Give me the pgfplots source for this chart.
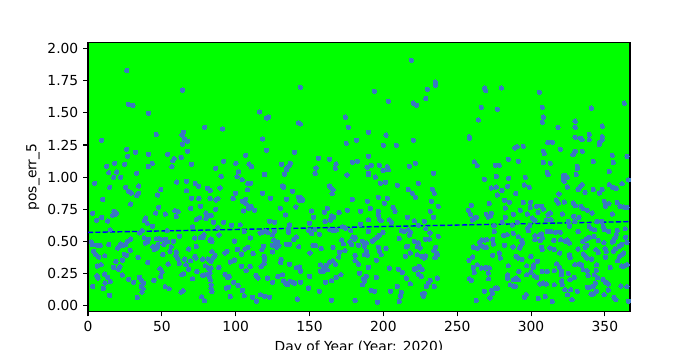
\documentclass[border=0pt]{standalone}
\usepackage{fontspec}
\setmainfont{DejaVu Sans}
\usepackage{pgfplots}
\pgfplotsset{compat=1.18}
\definecolor{pt}{HTML}{3A78C2}
\definecolor{bg}{HTML}{00FF00}
\begin{document}
\begin{tikzpicture}
\useasboundingbox (-0.88in,-0.385in) rectangle (6.12in,3.115in);
\begin{axis}[
 scale only axis, width=5.42in, height=2.69in,
 xmin=0, xmax=367, ymin=-0.045, ymax=2.047,
 axis background/.style={fill=bg},
 xtick={0,50,...,350}, ytick={0,0.25,...,2},
 yticklabel style={/pgf/number format/.cd,fixed,fixed zerofill,precision=2},
 /pgf/number format/assume math mode=true,
 tick align=outside, xtick pos=left, ytick pos=left,
 major tick length=3.5pt,
 tick style={black, line width=0.8pt},
 axis line style={line width=0.8pt},
 ticklabel style={font=\fontsize{10}{12}\selectfont},
 xlabel={Day of Year (Year: 2020)}, ylabel={pos\_err\_5},
 xlabel style={at={(axis description cs:0.5,-0.109)}, anchor=north, inner sep=0pt, font=\fontsize{10}{12}\selectfont},
 ylabel style={at={(axis description cs:-0.1015,0.5)}, anchor=center, inner sep=0pt, font=\fontsize{10}{12}\selectfont},
]
\addplot[only marks, color=pt, mark=*, mark size=1.6pt, mark options={draw=pt, fill=pt, line width=0pt}] table {
x y
26.2 1.83
27.3 1.567
30.4 1.559
41.0 1.497
46.2 1.333
9.2 1.287
26.2 1.217
32.2 1.193
26.8 1.162
41.0 1.178
53.9 1.178
57.5 1.128
58.4 1.144
56.8 1.082
12.6 1.084
18.0 1.108
24.8 1.100
14.0 1.035
19.4 1.040
17.4 0.999
22.1 0.999
32.9 1.030
40.8 1.084
43.5 1.108
4.5 0.952
14.7 0.921
25.5 0.921
34.3 0.931
27.3 0.890
29.3 0.877
34.3 0.874
33.1 0.859
49.2 0.905
47.1 0.861
60.0 0.962
9.9 0.827
28.9 0.791
47.8 0.765
3.1 0.719
17.6 0.734
19.2 0.721
18.5 0.708
5.8 0.664
9.2 0.687
13.3 0.659
16.7 0.703
45.8 0.721
52.3 0.713
58.9 0.739
59.8 0.695
39.0 0.682
38.1 0.661
40.1 0.641
43.7 0.617
15.1 0.591
36.7 0.584
34.9 0.566
53.7 0.584
2.2 0.495
3.1 0.475
6.3 0.470
8.3 0.470
14.0 0.477
20.7 0.459
22.1 0.480
23.7 0.470
25.3 0.475
26.8 0.501
20.1 0.449
28.9 0.519
38.1 0.529
41.0 0.516
40.1 0.495
38.8 0.488
44.0 0.459
44.9 0.438
46.7 0.449
46.2 0.521
48.2 0.521
49.6 0.514
52.5 0.516
53.9 0.498
51.4 0.477
47.3 0.477
56.4 0.459
59.8 0.418
57.9 0.501
3.8 0.423
7.2 0.379
4.9 0.402
11.3 0.389
24.6 0.400
26.2 0.392
28.6 0.431
23.4 0.355
18.9 0.345
34.0 0.376
50.7 0.400
55.5 0.423
59.5 0.387
6.3 0.309
8.8 0.319
17.3 0.298
20.7 0.285
21.6 0.304
40.4 0.337
54.3 0.324
48.7 0.288
50.1 0.262
11.3 0.246
6.1 0.233
6.7 0.215
13.3 0.220
15.1 0.189
11.5 0.176
10.4 0.135
14.6 0.080
3.1 0.150
23.2 0.239
27.5 0.205
30.9 0.182
34.9 0.220
36.1 0.200
37.6 0.176
36.1 0.150
37.4 0.132
36.5 0.106
33.4 0.065
44.6 0.197
52.3 0.148
55.0 0.132
49.2 0.228
64.0 1.676
63.6 1.328
64.7 1.349
65.4 1.297
64.0 1.256
67.4 1.279
67.4 1.201
63.1 1.154
79.0 1.388
91.1 1.375
70.1 1.100
66.7 0.968
72.6 0.952
74.8 0.929
66.7 0.895
80.9 0.913
82.7 0.897
86.4 1.069
91.8 1.123
90.2 1.007
70.1 0.835
75.1 0.835
82.7 0.835
86.6 0.822
87.9 0.833
89.5 0.916
100.1 1.108
99.9 0.874
98.3 0.835
101.9 1.043
101.0 1.004
104.4 0.981
106.7 1.170
109.1 1.102
110.7 1.082
108.2 0.952
110.0 0.952
108.0 0.903
106.7 0.828
104.6 0.812
106.2 0.802
107.1 0.794
108.5 0.773
105.3 0.737
109.0 0.755
110.5 0.773
112.8 0.742
116.1 1.507
118.2 1.297
118.2 0.874
119.5 1.020
60.9 0.731
69.5 0.757
76.2 0.773
79.8 0.721
80.5 0.700
79.8 0.677
83.4 0.703
86.4 0.750
85.0 0.649
73.3 0.669
70.8 0.615
75.5 0.685
91.8 0.649
97.2 0.625
103.1 0.630
62.0 0.540
72.2 0.527
76.0 0.529
78.5 0.553
77.8 0.532
83.2 0.519
83.9 0.498
82.7 0.508
87.9 0.607
88.8 0.550
99.2 0.503
105.8 0.578
110.0 0.527
116.6 0.566
117.7 0.568
119.9 0.581
68.1 0.441
73.3 0.462
60.9 0.363
65.4 0.363
69.4 0.350
72.4 0.384
73.0 0.371
77.6 0.363
81.2 0.363
83.9 0.420
85.9 0.392
84.6 0.371
83.2 0.345
92.9 0.410
94.0 0.423
96.3 0.340
99.2 0.355
101.2 0.438
103.9 0.402
106.4 0.441
108.2 0.454
111.8 0.407
117.7 0.436
118.8 0.462
119.3 0.384
119.5 0.358
119.3 0.329
61.8 0.329
63.6 0.241
64.7 0.249
68.1 0.285
66.3 0.319
70.8 0.210
73.7 0.267
79.4 0.311
78.9 0.241
80.5 0.241
81.6 0.293
82.7 0.254
82.1 0.228
83.4 0.293
82.9 0.202
83.4 0.163
83.2 0.137
83.9 0.112
77.6 0.236
88.6 0.298
92.9 0.244
94.5 0.220
95.6 0.228
98.6 0.182
101.7 0.158
104.6 0.119
103.9 0.306
107.1 0.272
109.8 0.306
113.9 0.236
115.2 0.215
117.2 0.304
93.6 0.137
95.2 0.143
96.3 0.073
76.9 0.070
78.9 0.039
63.1 0.106
64.3 0.117
105.8 0.078
111.4 0.065
114.1 0.036
116.8 0.086
119.5 0.073
143.8 1.699
120.9 1.460
122.2 1.466
142.5 1.422
143.8 1.414
174.3 1.466
176.3 1.388
174.9 1.263
120.9 1.209
139.8 1.193
156.1 1.147
163.5 1.139
131.0 1.100
137.0 1.108
136.2 1.089
134.8 1.071
134.3 1.056
133.0 1.022
154.5 1.071
153.8 1.030
168.0 1.102
167.4 1.069
179.0 1.115
175.4 1.017
131.7 0.931
132.4 0.921
138.5 0.890
123.6 0.835
134.4 0.827
142.5 0.843
144.3 0.838
143.4 0.817
145.2 0.820
140.7 0.768
163.5 0.931
164.6 0.916
166.0 0.903
165.3 0.872
179.0 0.827
130.3 0.757
133.7 0.706
151.3 0.737
160.1 0.726
162.1 0.757
160.6 0.656
164.9 0.698
166.2 0.687
164.2 0.664
170.0 0.726
175.6 0.742
122.9 0.656
126.3 0.649
136.4 0.630
152.7 0.687
150.0 0.641
121.8 0.568
125.0 0.553
126.3 0.578
135.8 0.599
135.8 0.571
149.5 0.586
151.5 0.560
153.5 0.594
156.7 0.555
163.7 0.591
165.7 0.584
168.2 0.589
172.3 0.615
174.3 0.604
177.9 0.584
179.3 0.534
180.9 0.532
125.7 0.511
128.3 0.495
126.7 0.475
124.9 0.470
127.6 0.454
129.2 0.467
134.4 0.477
136.4 0.477
139.3 0.516
141.0 0.534
142.7 0.459
152.4 0.470
154.2 0.467
157.9 0.446
165.9 0.454
171.8 0.511
172.9 0.482
177.2 0.498
178.6 0.475
180.4 0.516
124.9 0.418
130.8 0.361
130.4 0.337
136.4 0.322
141.2 0.296
143.2 0.301
143.9 0.267
150.4 0.410
157.4 0.319
159.4 0.298
161.5 0.314
163.7 0.340
165.7 0.350
167.5 0.324
162.1 0.280
170.3 0.415
169.7 0.379
173.9 0.428
180.9 0.392
180.9 0.350
121.5 0.215
125.0 0.182
128.5 0.228
131.7 0.241
132.4 0.195
133.7 0.176
135.1 0.163
136.7 0.189
138.5 0.182
139.9 0.176
143.9 0.182
150.0 0.228
157.4 0.267
159.2 0.267
160.6 0.280
160.8 0.182
164.9 0.195
168.0 0.220
171.2 0.241
122.9 0.065
141.8 0.052
149.3 0.137
156.7 0.112
164.9 0.042
180.9 0.042
219.0 1.909
193.9 1.668
203.4 1.590
220.3 1.577
222.4 1.559
229.8 1.683
228.7 1.613
235.2 1.741
235.2 1.715
189.9 1.349
201.8 1.326
181.8 1.287
200.0 1.248
208.8 1.248
220.3 1.287
189.9 1.162
182.4 1.123
189.0 1.077
191.9 1.092
189.9 1.030
189.9 1.020
197.3 1.092
199.8 1.053
202.7 1.082
203.4 1.058
194.6 1.001
217.6 1.084
221.7 1.108
233.9 1.030
198.0 0.952
201.4 0.960
209.5 0.936
223.7 0.952
216.9 0.905
219.6 0.874
221.7 0.843
233.2 0.905
234.5 0.874
196.6 0.843
202.7 0.835
200.7 0.796
189.2 0.812
184.5 0.734
191.2 0.757
206.6 0.765
207.9 0.734
196.6 0.734
196.6 0.703
197.3 0.672
198.6 0.661
232.5 0.812
231.8 0.734
237.2 0.773
233.9 0.687
216.3 0.687
189.9 0.669
184.5 0.633
204.1 0.669
205.4 0.649
221.0 0.661
227.8 0.656
223.7 0.625
189.9 0.578
199.8 0.571
212.2 0.584
214.2 0.578
216.9 0.591
218.3 0.573
228.7 0.599
231.6 0.566
237.2 0.540
210.8 0.524
217.6 0.550
185.8 0.501
183.1 0.470
192.6 0.501
194.4 0.519
196.0 0.534
197.3 0.547
187.2 0.462
188.5 0.488
188.5 0.423
187.2 0.397
189.2 0.394
196.6 0.454
197.3 0.423
198.6 0.397
201.8 0.446
221.0 0.501
223.7 0.490
223.0 0.459
224.9 0.449
228.5 0.516
231.1 0.519
215.6 0.457
216.3 0.462
218.3 0.410
235.4 0.454
234.1 0.428
236.1 0.410
236.8 0.397
234.8 0.374
235.6 0.384
223.0 0.397
225.9 0.384
228.5 0.387
227.7 0.371
214.9 0.384
195.3 0.353
183.1 0.324
189.9 0.298
204.1 0.293
210.2 0.283
212.9 0.259
223.0 0.293
224.4 0.306
221.0 0.285
226.3 0.283
183.8 0.252
188.5 0.228
187.2 0.189
185.8 0.163
186.5 0.210
195.3 0.220
215.6 0.215
223.7 0.246
225.7 0.228
231.8 0.197
230.4 0.176
229.1 0.150
236.6 0.215
234.5 0.150
218.3 0.171
209.5 0.150
191.7 0.119
194.0 0.112
204.8 0.112
212.2 0.104
211.5 0.073
210.8 0.034
226.4 0.091
227.8 0.096
227.1 0.073
196.0 0.026
268.6 1.694
269.3 1.673
279.9 1.694
266.3 1.543
277.2 1.528
264.3 1.445
258.2 1.315
258.2 1.302
289.1 1.227
290.7 1.237
294.7 1.240
261.6 1.120
263.6 1.089
275.8 1.092
278.5 1.092
284.6 1.139
291.4 1.123
268.4 0.983
276.5 1.006
276.5 0.923
273.1 0.916
277.2 0.861
280.3 0.897
284.1 0.929
284.8 0.991
289.6 0.874
296.1 0.999
295.4 0.939
298.8 0.921
282.0 0.820
285.3 0.804
271.7 0.796
259.6 0.781
257.5 0.742
258.9 0.711
260.2 0.667
261.6 0.680
263.0 0.687
269.7 0.711
271.0 0.690
273.1 0.719
272.4 0.698
282.6 0.760
282.6 0.687
288.0 0.711
292.7 0.742
294.7 0.804
297.5 0.713
299.7 0.804
299.5 0.765
300.8 0.682
302.6 0.664
274.9 0.623
275.1 0.578
280.5 0.649
287.3 0.628
290.7 0.649
297.7 0.604
298.2 0.584
299.1 0.625
281.4 0.547
283.9 0.553
288.0 0.563
291.4 0.537
274.0 0.516
274.5 0.480
293.7 0.508
293.0 0.464
294.3 0.488
292.3 0.449
302.7 0.545
302.7 0.514
265.2 0.493
266.6 0.511
268.6 0.511
270.1 0.514
265.9 0.467
268.0 0.456
269.7 0.454
263.8 0.446
260.9 0.456
282.0 0.470
278.5 0.410
279.2 0.371
274.0 0.392
258.0 0.353
260.5 0.379
287.8 0.457
289.8 0.384
291.4 0.371
293.9 0.361
299.9 0.384
301.8 0.319
301.4 0.298
297.1 0.311
297.0 0.241
284.6 0.311
291.8 0.267
263.6 0.319
260.9 0.298
266.3 0.293
268.6 0.293
269.7 0.298
271.0 0.254
271.3 0.210
271.7 0.293
261.6 0.259
258.2 0.210
259.6 0.197
284.1 0.241
284.1 0.215
288.0 0.202
290.1 0.215
291.4 0.202
286.0 0.163
287.8 0.153
289.4 0.150
299.9 0.259
302.2 0.233
295.6 0.067
296.8 0.086
268.4 0.112
273.3 0.119
273.8 0.096
275.8 0.137
277.2 0.137
272.2 0.060
262.9 0.042
305.6 1.660
307.6 1.543
308.3 1.466
307.6 1.427
340.8 1.536
363.1 1.575
318.3 1.388
329.9 1.435
329.9 1.388
329.9 1.310
333.5 1.302
334.7 1.292
339.4 1.333
339.4 1.292
346.2 1.253
348.2 1.396
348.2 1.315
348.2 1.292
346.7 1.274
311.4 1.271
314.4 1.271
319.8 1.217
308.3 1.201
309.0 1.183
328.4 1.175
329.5 1.193
330.0 1.201
334.7 1.201
308.3 1.115
313.0 1.108
342.1 1.123
355.0 1.170
355.7 1.115
365.0 1.162
331.3 1.084
331.3 1.066
330.6 1.020
311.0 1.038
311.6 1.020
353.0 1.045
366.0 0.978
321.8 1.012
323.2 1.014
324.5 0.999
321.8 0.981
322.5 0.968
324.5 0.923
333.0 0.923
331.9 0.905
334.6 0.942
336.5 0.882
342.1 0.905
346.2 0.877
348.2 0.905
353.0 0.942
355.0 0.921
356.8 0.916
357.7 0.913
361.7 0.949
318.8 0.869
317.1 0.822
318.4 0.799
322.5 0.807
328.6 0.799
330.1 0.778
349.6 0.812
352.7 0.794
350.4 0.773
358.4 0.804
360.2 0.773
362.9 0.768
303.8 0.773
307.1 0.773
308.3 0.752
313.0 0.721
311.6 0.708
333.8 0.773
335.4 0.755
338.1 0.742
321.1 0.713
328.8 0.695
332.4 0.687
341.4 0.721
355.0 0.713
304.7 0.726
365.0 0.765
310.5 0.669
313.5 0.669
325.2 0.656
329.7 0.656
344.6 0.656
347.8 0.656
311.0 0.578
313.2 0.578
316.6 0.571
319.8 0.571
326.0 0.617
331.9 0.578
339.4 0.617
340.8 0.599
343.0 0.591
348.9 0.617
349.8 0.591
352.5 0.578
358.4 0.586
357.7 0.553
356.8 0.529
363.8 0.599
305.8 0.553
307.1 0.560
307.6 0.527
306.2 0.506
315.5 0.508
320.0 0.514
323.2 0.501
324.5 0.511
325.9 0.488
335.1 0.501
337.4 0.519
339.4 0.532
342.5 0.540
345.5 0.508
349.3 0.490
355.0 0.495
355.9 0.508
359.9 0.462
361.3 0.477
364.0 0.532
364.9 0.493
307.1 0.454
307.6 0.436
312.8 0.449
315.7 0.438
319.4 0.410
326.0 0.397
326.5 0.376
331.9 0.441
336.5 0.454
337.8 0.470
343.9 0.436
345.5 0.415
350.2 0.444
350.9 0.423
350.4 0.376
355.9 0.423
357.2 0.444
360.0 0.384
361.3 0.397
362.7 0.410
304.4 0.345
336.5 0.389
337.6 0.371
335.4 0.402
340.9 0.363
344.4 0.319
353.6 0.298
358.6 0.350
361.3 0.309
363.1 0.309
365.1 0.319
317.3 0.327
319.1 0.301
329.7 0.319
332.6 0.324
334.2 0.316
335.4 0.280
337.9 0.272
344.2 0.275
303.8 0.220
307.6 0.267
311.0 0.267
315.7 0.272
320.7 0.267
320.5 0.241
325.2 0.252
338.7 0.236
342.8 0.241
345.0 0.218
348.8 0.205
306.0 0.169
308.3 0.176
310.3 0.169
315.7 0.163
320.7 0.195
321.1 0.163
326.3 0.202
329.3 0.220
338.1 0.143
339.2 0.143
342.1 0.150
343.5 0.176
350.4 0.184
352.3 0.169
360.8 0.153
364.9 0.148
366.0 0.034
304.9 0.057
309.6 0.073
314.4 0.034
322.9 0.125
324.7 0.086
326.8 0.125
331.3 0.112
327.7 0.047
340.6 0.091
342.2 0.091
344.2 0.112
349.5 0.086
352.3 0.122
356.3 0.065
357.4 0.047
};
\addplot[blue, line width=1pt, dash pattern=on 3.7pt off 1.6pt] coordinates {(0,0.570) (367,0.654)};
\end{axis}
\end{tikzpicture}
\end{document}
